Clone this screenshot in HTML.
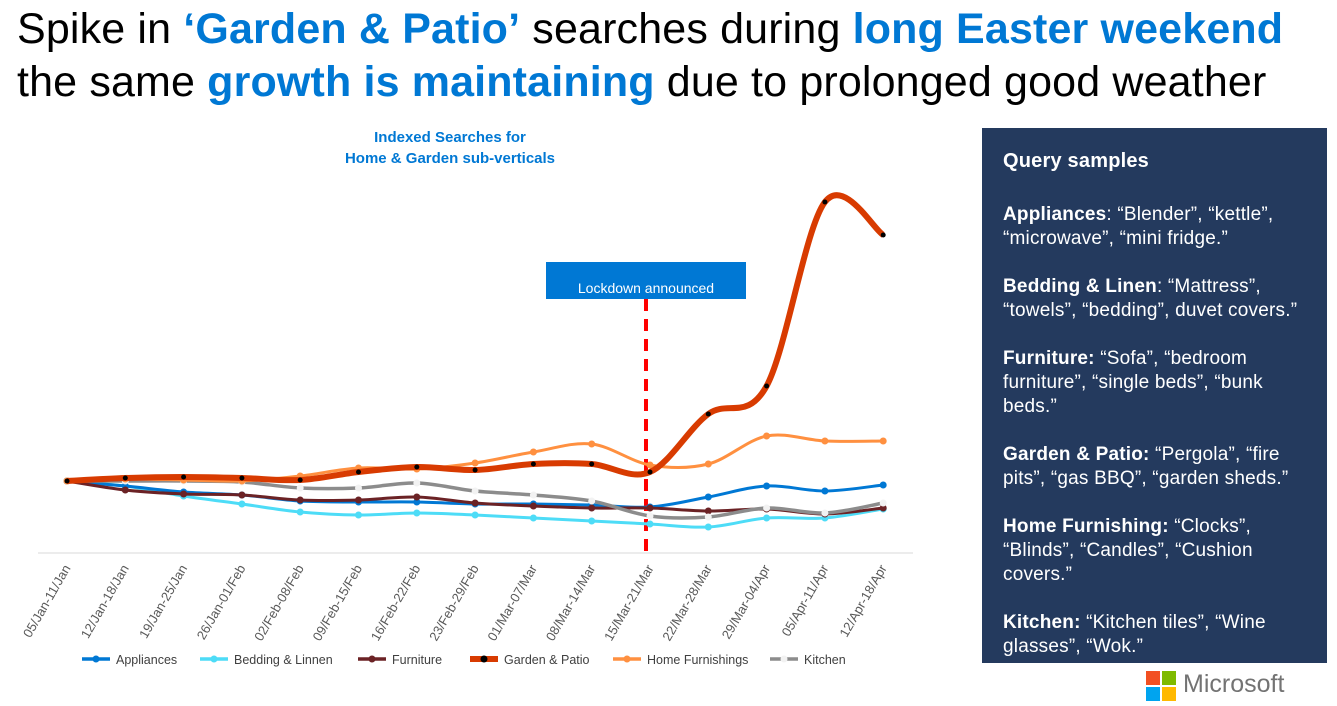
<!DOCTYPE html>
<html><head><meta charset="utf-8"><style>
body{margin:0;width:1337px;height:706px;background:#fff;font-family:"Liberation Sans",sans-serif;position:relative;overflow:hidden}
.t{position:absolute;left:17px;font-size:43px;color:#000;white-space:nowrap;letter-spacing:0.15px}
.t b{color:#0078d4}
.panel{position:absolute;left:982px;top:128px;width:345px;height:535px;background:#243a5e;color:#fff;font-size:19px;letter-spacing:0.2px;line-height:24px;box-sizing:border-box;padding:21px 24px 0 21px}
.panel p{margin:0 0 24px}
.ct{position:absolute;left:300px;width:300px;text-align:center;color:#0078d4;font-weight:bold;font-size:15px;line-height:21px;top:127px}
</style></head><body>
<div class="t" style="top:5px">Spike in <b>‘Garden &amp; Patio’</b> searches during <b>long Easter weekend</b></div>
<div class="t" style="top:58px">the same <b>growth is maintaining</b> due to prolonged good weather</div>
<div class="ct">Indexed Searches for<br>Home &amp; Garden sub-verticals</div>
<div class="panel">
<p style="font-weight:bold;font-size:20px;margin-bottom:30px">Query samples</p>
<p><b>Appliances</b>: “Blender”, “kettle”, “microwave”, “mini fridge.”</p>
<p><b>Bedding &amp; Linen</b>: “Mattress”, “towels”, “bedding”, duvet covers.”</p>
<p><b>Furniture:</b> “Sofa”, “bedroom furniture”, “single beds”, “bunk beds.”</p>
<p><b>Garden &amp; Patio:</b> “Pergola”, “fire pits”, “gas BBQ”, “garden sheds.”</p>
<p><b>Home Furnishing:</b> “Clocks”, “Blinds”, “Candles”, “Cushion covers.”</p>
<p><b>Kitchen:</b> “Kitchen tiles”, “Wine glasses”, “Wok.”</p>
</div>
<div style="position:absolute;left:1146px;top:671px;width:14px;height:14px;background:#f25022"></div>
<div style="position:absolute;left:1162px;top:671px;width:14px;height:14px;background:#7fba00"></div>
<div style="position:absolute;left:1146px;top:687px;width:14px;height:14px;background:#00a4ef"></div>
<div style="position:absolute;left:1162px;top:687px;width:14px;height:14px;background:#ffb900"></div>
<div style="position:absolute;left:1183px;top:670px;font-size:25px;color:#737373">Microsoft</div>
<svg id="s" width="960" height="706" style="position:absolute;left:0;top:0" font-family="Liberation Sans, sans-serif">
<line x1="38" y1="553" x2="913" y2="553" stroke="#d9d9d9" stroke-width="1"/>
<rect x="546" y="262" width="200" height="37" fill="#0078d4"/>
<text x="646" y="293" fill="#fff" font-size="14" text-anchor="middle">Lockdown announced</text>
<line x1="646" y1="299" x2="646" y2="553" stroke="#ff0000" stroke-width="4" stroke-dasharray="12,8"/>
</svg>
<script>
var xs=[];for(var i=0;i<15;i++)xs.push(67+i*58.3);
var labels=["05/Jan-11/Jan","12/Jan-18/Jan","19/Jan-25/Jan","26/Jan-01/Feb","02/Feb-08/Feb","09/Feb-15/Feb","16/Feb-22/Feb","23/Feb-29/Feb","01/Mar-07/Mar","08/Mar-14/Mar","15/Mar-21/Mar","22/Mar-28/Mar","29/Mar-04/Apr","05/Apr-11/Apr","12/Apr-18/Apr"];
var S=[
["Bedding & Linnen","#4ddcf7",3,[481,486,496,504,512,515,513,515,518,521,524,527,518,518,509],"#4ddcf7"],
["Appliances","#0078d4",3,[481,486,492,495,501,502,502,504,504,505,507,497,486,491,485],"#0078d4"],
["Furniture","#6b2225",3,[481,490,494,495,500,500,497,503,506,508,508,511,509,514,508],"#6b2225"],
["Kitchen","#8c8c8c",3.5,[481,481,481,482,488,488,483,491,495,501,516,517,508,513,503],"#f2f2f2"],
["Home Furnishings","#ff9040",3,[481,479,480,481,476,468,469,463,452,444,465,464,436,441,441],"#ff9040"],
["Garden & Patio","#d83b01",6,[481,478,477,478,480,472,467,470,464,464,472,414,386,202,235],"#000"]];
var ns="http://www.w3.org/2000/svg",svg=document.getElementById("s");
function el(n,a){var e=document.createElementNS(ns,n);for(var k in a)e.setAttribute(k,a[k]);svg.appendChild(e);return e}
function path(ys){var d="M"+xs[0]+","+ys[0];for(var i=0;i<14;i++){var p0=i?ys[i-1]:ys[i],p3=i<13?ys[i+2]:ys[i+1];var x0=i?xs[i-1]:xs[i],x3=i<13?xs[i+2]:xs[i+1];
var c1x=xs[i]+(xs[i+1]-x0)/6,c1y=ys[i]+(ys[i+1]-p0)/6,c2x=xs[i+1]-(x3-xs[i])/6,c2y=ys[i+1]-(p3-ys[i])/6;d+=" C"+c1x+","+c1y+" "+c2x+","+c2y+" "+xs[i+1]+","+ys[i+1];}return d}
S.forEach(function(s){el("path",{d:path(s[3]),fill:"none",stroke:s[1],"stroke-width":s[2]});
s[3].forEach(function(y,i){el("circle",{cx:xs[i],cy:y,r:s[0]=="Garden & Patio"?2.5:3.5,fill:s[4]})});});
labels.forEach(function(l,i){var t=el("text",{x:xs[i]+4,y:568,"font-size":13,fill:"#595959","text-anchor":"end",transform:"rotate(-60 "+(xs[i]+4)+" 568)"});t.textContent=l;});
var leg=[["Appliances","#0078d4",82,"#0078d4"],["Bedding & Linnen","#4ddcf7",200,"#4ddcf7"],["Furniture","#6b2225",358,"#6b2225"],["Garden & Patio","#d83b01",470,"#000"],["Home Furnishings","#ff9040",613,"#ff9040"],["Kitchen","#8c8c8c",770,"#f2f2f2"]];
leg.forEach(function(l){el("line",{x1:l[2],y1:659,x2:l[2]+28,y2:659,stroke:l[1],"stroke-width":l[0]=="Garden & Patio"?6:3.5});el("circle",{cx:l[2]+14,cy:659,r:3.5,fill:l[3]});var t=el("text",{x:l[2]+34,y:664,"font-size":12.5,fill:"#404040"});t.textContent=l[0];});
</script>
</body></html>
